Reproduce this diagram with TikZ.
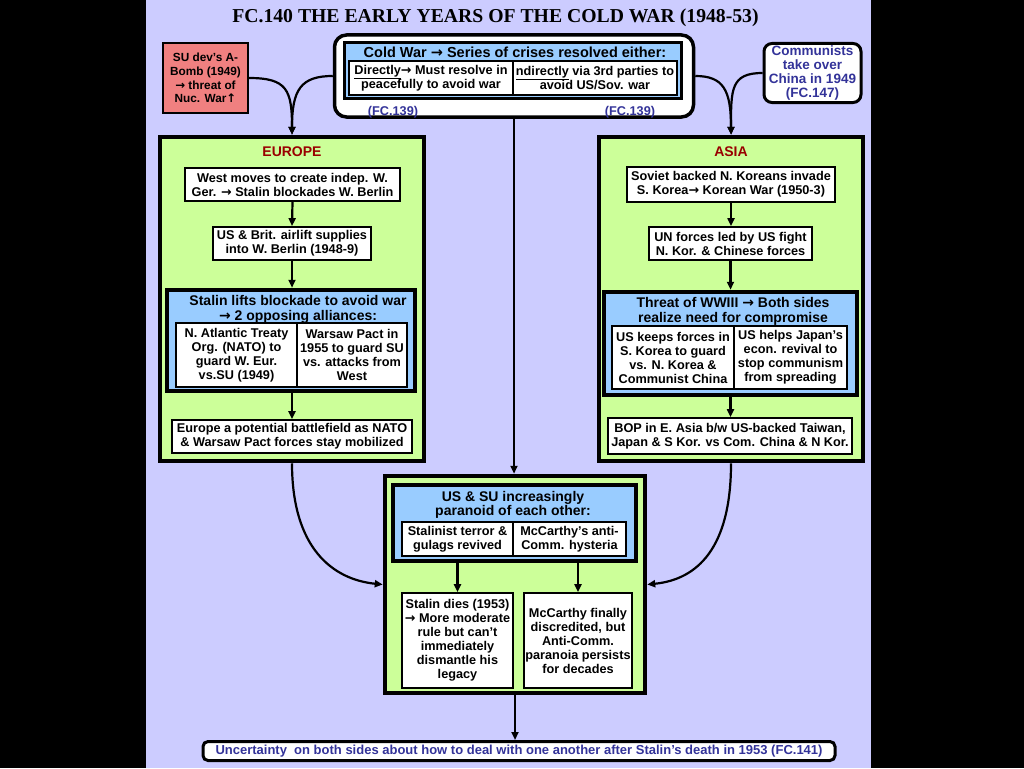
\documentclass[tikz,border=0pt]{standalone}
\usepackage{fontspec}
\setmainfont{Liberation Sans}
\newfontfamily\titlefont{Liberation Serif}
\newfontfamily\arrowfont{DejaVu Sans}
\usetikzlibrary{arrows.meta}
\definecolor{lav}{HTML}{CCCCFF}
\definecolor{leaf}{HTML}{CCFF99}
\definecolor{sky}{HTML}{99CCFF}
\definecolor{salmon}{RGB}{240,128,128}
\definecolor{ink}{HTML}{333399}
\definecolor{brick}{HTML}{990000}
\newcommand{\bodysize}{\fontsize{12.7}{14}\selectfont\bfseries}
\newcommand{\headsize}{\fontsize{14}{14.5}\selectfont\bfseries}
\newcommand{\ra}{{\arrowfont →}}
\newcommand{\ua}{{\arrowfont ↑}}
\begin{document}
\begin{tikzpicture}[x=1pt,y=-1pt,>={Triangle[length=8pt,width=7pt]},
  every node/.style={font=\bodysize,align=center,inner sep=0pt},
  cell/.style 2 args={draw,fill=white,line width=1.8pt,minimum width=#1,minimum height=#2},
  panel/.style 2 args={draw,fill=leaf,line width=4.5pt,minimum width=#1,minimum height=#2},
  inset/.style 2 args={draw,fill=sky,line width=4.5pt,minimum width=#1,minimum height=#2},
  arr/.style={->,line width=2.2pt}]
\fill[black] (0,0) rectangle (1024,768);
\fill[lav] (146,0) rectangle (871,768);
\useasboundingbox (0,0) rectangle (1024,768);
\node[font=\titlefont\fontsize{19.7}{20}\selectfont\bfseries] (title) at (495.5,18) {FC.140 THE EARLY YEARS OF THE COLD WAR (1948-53)};
\node[draw,fill=white,rounded corners=12pt,line width=3.5pt,minimum width=359pt,minimum height=82pt] (crises) at (514,76) {};
\node[inset={337pt}{56pt},line width=3.5pt] (crisesin) at (513,70.5) {};
\node[font=\fontsize{14.5}{15}\selectfont\bfseries] (crisestxt) at (515,52) {Cold War \ra{} Series of crises resolved either:};
\node[cell={164pt}{34pt}] (direct) at (431,78) {\underline{Directly}\ra{} Must resolve in\\peacefully to avoid war};
\node[cell={164pt}{34pt}] (indirect) at (595,78) {\underline{ndirectly} via 3rd parties to\\avoid US/Sov. war};
\node[text=ink] (fcleft) at (393,112) {(FC.139)};
\node[text=ink] (fcright) at (630,112) {(FC.139)};
\node[draw,fill=salmon,line width=1.8pt,minimum width=85pt,minimum height=70pt,font=\fontsize{11.8}{13.7}\selectfont\bfseries] (bomb) at (205.5,78) {SU dev’s A-\\Bomb (1949)\\\ra{} threat of\\Nuc. War\ua};
\node[draw,fill=white,rounded corners=8pt,line width=3pt,minimum width=97pt,minimum height=59pt,text=ink,font=\fontsize{13.5}{13.7}\selectfont\bfseries] (china) at (812.5,73) {Communists\\take over\\China in 1949\\(FC.147)};

\node[panel={264pt}{324pt}] (europe) at (292,299) {};
\node[text=brick,font=\headsize] (eulabel) at (292,152) {EUROPE};
\node[cell={215pt}{33pt}] (blockade) at (292.5,184.5) {West moves to create indep. W.\\Ger. \ra{} Stalin blockades W. Berlin};
\node[cell={158pt}{33pt}] (airlift) at (292,243.5) {US \& Brit. airlift supplies\\into W. Berlin (1948-9)};
\node[inset={248pt}{101pt}] (alliances) at (291,340.5) {};
\node[font=\headsize] (alliancestxt) at (298,309.5) {Stalin lifts blockade to avoid war\\\ra{} 2 opposing alliances:};
\node[cell={121pt}{64pt}] (nato) at (236.5,355) {N. Atlantic Treaty\\Org. (NATO) to\\guard W. Eur.\\vs.SU (1949)};
\node[cell={110pt}{64pt}] (warsaw) at (352,355) {Warsaw Pact in\\1955 to guard SU\\vs. attacks from\\West};
\node[cell={240pt}{33pt}] (battlefield) at (292,436.5) {Europe a potential battlefield as NATO\\\& Warsaw Pact forces stay mobilized};

\node[panel={264pt}{324pt}] (asia) at (731,299) {};
\node[text=brick,font=\headsize] (aslabel) at (731,152) {ASIA};
\node[cell={208pt}{35pt}] (invade) at (731,184.5) {Soviet backed N. Koreans invade\\S. Korea\ra{} Korean War (1950-3)};
\node[cell={163pt}{33pt}] (unforces) at (730.5,243.5) {UN forces led by US fight\\N. Kor. \& Chinese forces};
\node[inset={253pt}{103pt}] (compromise) at (730.5,343.5) {};
\node[font=\headsize] (compromisetxt) at (733,311.5) {Threat of WWIII \ra{} Both sides\\realize need for compromise};
\node[cell={122pt}{63pt}] (korea) at (673,357.5) {US keeps forces in\\S. Korea to guard\\vs. N. Korea \&\\Communist China};
\node[cell={113pt}{63pt}] (japan) at (790.5,357.5) {US helps Japan’s\\econ. revival to\\stop communism\\from spreading};
\node[cell={244pt}{36pt}] (bop) at (730,436) {BOP in E. Asia b/w US-backed Taiwan,\\Japan \& S Kor. vs Com. China \& N Kor.};

\node[panel={260pt}{217pt}] (center) at (515,584.5) {};
\node[inset={243pt}{76pt}] (paranoid) at (514.5,523) {};
\node[font=\headsize] (paranoidtxt) at (513,505) {US \& SU increasingly\\paranoid of each other:};
\node[cell={111pt}{34pt}] (terror) at (457.5,539) {Stalinist terror \&\\gulags revived};
\node[cell={113pt}{34pt}] (hysteria) at (569.5,539) {McCarthy’s anti-\\Comm. hysteria};
\node[cell={111pt}{95pt}] (stalin) at (457.5,640.5) {Stalin dies (1953)\\\ra{} More moderate\\rule but can’t\\immediately\\dismantle his\\legacy};
\node[cell={108pt}{95pt}] (mccarthy) at (578,640.5) {McCarthy finally\\discredited, but\\Anti-Comm.\\paranoia persists\\for decades};

\node[draw,fill=white,rounded corners=5pt,line width=3pt,minimum width=632pt,minimum height=19pt,text=ink,font=\fontsize{13}{13}\selectfont\bfseries] (uncertainty) at (519,751) {Uncertainty\ \ on both sides about how to deal with one another after Stalin’s death in 1953 (FC.141)};

\draw[arr] (blockade.south) -- (airlift.north);
\draw[arr] (airlift.south) -- (airlift.south |- alliances.north);
\draw[arr] (airlift.south |- alliances.south) -- (battlefield.north);
\draw[arr] (invade.south) -- (invade.south |- unforces.north);
\draw[arr] (unforces.south) -- (unforces.south |- compromise.north);
\draw[arr] (unforces.south |- compromise.south) -- (unforces.south |- bop.north);
\draw[arr] (stalin.north |- paranoid.south) -- (stalin.north);
\draw[arr] (mccarthy.north |- paranoid.south) -- (mccarthy.north);
\draw[arr] (crises.south) -- (crises.south |- center.north);
\draw[arr] (center.south) -- (center.south |- uncertainty.north);
\draw[arr] (bomb.east) .. controls +(38,0) and +(0,-45) .. (europe.north);
\draw[arr] (crises.west) .. controls +(-32,0) and +(0,-45) .. (europe.north);
\draw[arr] (crises.east) .. controls +(28,0) and +(0,-45) .. (asia.north);
\draw[arr] (china.west) .. controls +(-32,0) and +(0,-45) .. (asia.north);
\draw[arr] (europe.south) .. controls +(0,85) and +(-50,-5) .. (center.west);
\draw[arr] (asia.south) .. controls +(0,85) and +(50,-5) .. (center.east);
\end{tikzpicture}
\end{document}
